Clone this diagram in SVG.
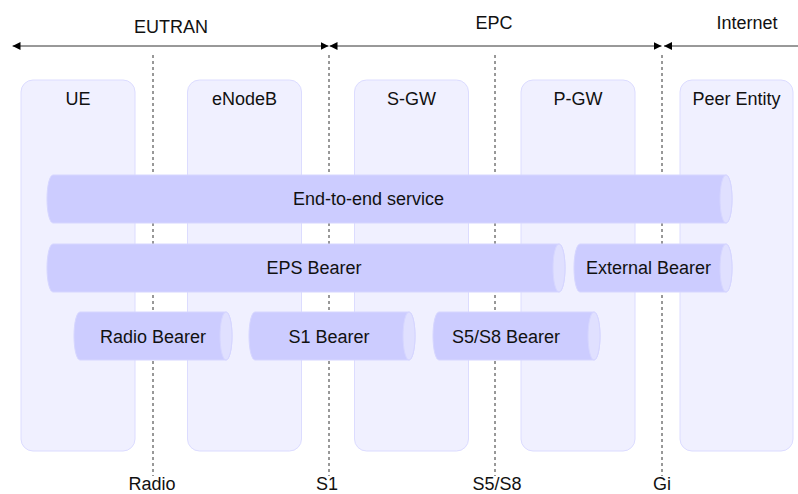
<svg xmlns="http://www.w3.org/2000/svg" width="798" height="494" viewBox="0 0 798 494">
<defs>
<style>
text{font-family:"Liberation Sans",Arial,sans-serif;font-size:18px;fill:#111;text-anchor:middle}
.box{fill:#f0f0ff;stroke:#dcdcff;stroke-width:1}
.body{fill:#ccccff;stroke:#d6d6ff;stroke-width:1}
.cap{fill:#e0e0ff;stroke:#d6d6ff;stroke-width:1}
.dash{stroke:#333;stroke-width:1;stroke-dasharray:3,3;fill:none}
.span{stroke:#333;stroke-width:1;fill:none}
</style>
<marker id="ah" viewBox="0 0 8 8" refX="8" refY="4" markerWidth="8" markerHeight="8" markerUnits="userSpaceOnUse" orient="auto-start-reverse">
<path d="M0,0 L8,4 L0,8 Z" fill="#000"/>
</marker>
</defs>
<rect width="798" height="494" fill="#fff"/>
<g id="connectors">
<line class="dash" x1="153" y1="55" x2="153" y2="476"/>
<line class="dash" x1="329" y1="55" x2="329" y2="476"/>
<line class="dash" x1="495" y1="55" x2="495" y2="476"/>
<line class="dash" x1="662" y1="55" x2="662" y2="476"/>
<line class="span" x1="12.5" y1="46" x2="328.5" y2="46" marker-start="url(#ah)" marker-end="url(#ah)"/>
<line class="span" x1="329.5" y1="46" x2="661.5" y2="46" marker-start="url(#ah)" marker-end="url(#ah)"/>
<line class="span" x1="664" y1="46" x2="812" y2="46" marker-start="url(#ah)" marker-end="url(#ah)"/>
</g>
<g id="domains">
<text x="171" y="33">EUTRAN</text>
<text x="494" y="29">EPC</text>
<text x="747" y="29">Internet</text>
</g>
<g id="ue"><rect class="box" x="21" y="80" width="114" height="371" rx="12"/><text x="78" y="105">UE</text></g>
<g id="enodeb"><rect class="box" x="187.5" y="80" width="114" height="371" rx="12"/><text x="244.5" y="105">eNodeB</text></g>
<g id="sgw"><rect class="box" x="354.5" y="80" width="114" height="371" rx="12"/><text x="411.5" y="105">S-GW</text></g>
<g id="pgw"><rect class="box" x="521" y="80" width="114" height="371" rx="12"/><text x="578" y="105">P-GW</text></g>
<g id="peer"><rect class="box" x="680" y="80" width="113" height="371" rx="12"/><text x="736.5" y="105">Peer Entity</text></g>
<g id="end-to-end">
<path class="body" d="M53,175 H726 A6,24 0 0 1 726,223 H53 A6,24 0 0 1 53,175 Z"/>
<ellipse class="cap" cx="726" cy="199" rx="6" ry="24"/>
<text x="368.5" y="205">End-to-end service</text>
</g>
<g id="eps-bearer">
<path class="body" d="M53,244 H559 A6,24 0 0 1 559,292 H53 A6,24 0 0 1 53,244 Z"/>
<ellipse class="cap" cx="559" cy="268" rx="6" ry="24"/>
<text x="314" y="274">EPS Bearer</text>
</g>
<g id="external-bearer">
<path class="body" d="M580,244 H726 A6,24 0 0 1 726,292 H580 A6,24 0 0 1 580,244 Z"/>
<ellipse class="cap" cx="726" cy="268" rx="6" ry="24"/>
<text x="648.5" y="274">External Bearer</text>
</g>
<g id="radio-bearer">
<path class="body" d="M80,312 H226 A6,24 0 0 1 226,360 H80 A6,24 0 0 1 80,312 Z"/>
<ellipse class="cap" cx="226" cy="336" rx="6" ry="24"/>
<text x="153" y="342.5">Radio Bearer</text>
</g>
<g id="s1-bearer">
<path class="body" d="M255,312 H409 A6,24 0 0 1 409,360 H255 A6,24 0 0 1 255,312 Z"/>
<ellipse class="cap" cx="409" cy="336" rx="6" ry="24"/>
<text x="329" y="342.5">S1 Bearer</text>
</g>
<g id="s5s8-bearer">
<path class="body" d="M439,312 H594 A6,24 0 0 1 594,360 H439 A6,24 0 0 1 439,312 Z"/>
<ellipse class="cap" cx="594" cy="336" rx="6" ry="24"/>
<text x="506" y="342.5">S5/S8 Bearer</text>
</g>
<g id="interfaces">
<text x="152" y="490">Radio</text>
<text x="327" y="490">S1</text>
<text x="497" y="490">S5/S8</text>
<text x="662" y="490">Gi</text>
</g>
</svg>
